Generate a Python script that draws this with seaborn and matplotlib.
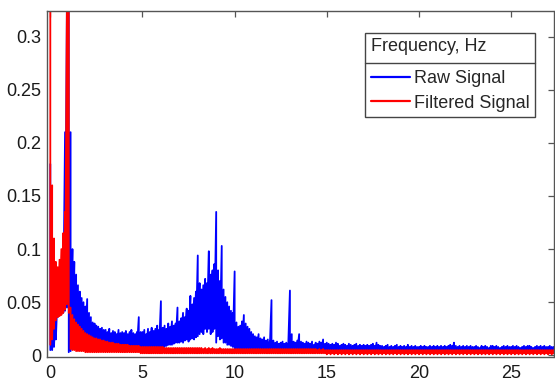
import numpy as np
import pandas as pd
import matplotlib
matplotlib.use("Agg")
import matplotlib.pyplot as plt
from matplotlib.lines import Line2D
from matplotlib.ticker import FuncFormatter
import seaborn as sns

# ---------------- data (0.1 Hz bins) ----------------
freq = np.round(np.arange(0, 27.35, 0.1), 1)   # 0.0 .. 27.3 Hz

# Raw signal: upper and lower envelope of the oscillating spectrum per bin
raw_hi = [
    0.180, 0.052, 0.046, 0.050, 0.060, 0.062, 0.070, 0.082, 0.210, 0.330,
    0.330, 0.210, 0.100, 0.088, 0.076, 0.066, 0.060, 0.054, 0.050, 0.046,
    0.053, 0.040, 0.036, 0.031, 0.030, 0.028, 0.027, 0.025, 0.026, 0.024,
    0.024, 0.022, 0.025, 0.021, 0.023, 0.022, 0.020, 0.024, 0.021, 0.022,
    0.021, 0.023, 0.020, 0.022, 0.024, 0.021, 0.020, 0.022, 0.036, 0.022,
    0.022, 0.024, 0.020, 0.025, 0.022, 0.026, 0.023, 0.025, 0.028, 0.024,
    0.051, 0.026, 0.028, 0.025, 0.030, 0.027, 0.032, 0.028, 0.030, 0.045,
    0.032, 0.035, 0.040, 0.036, 0.044, 0.042, 0.056, 0.048, 0.054, 0.060,
    0.094, 0.068, 0.062, 0.066, 0.072, 0.068, 0.098, 0.076, 0.080, 0.086,
    0.135, 0.080, 0.070, 0.103, 0.062, 0.055, 0.050, 0.046, 0.042, 0.040,
    0.079, 0.031, 0.027, 0.028, 0.032, 0.038, 0.030, 0.027, 0.025, 0.022,
    0.020, 0.018, 0.017, 0.020, 0.016, 0.015, 0.017, 0.014, 0.015, 0.013,
    0.052, 0.014, 0.012, 0.013, 0.011, 0.012, 0.013, 0.011, 0.012, 0.011,
    0.061, 0.020, 0.013, 0.012, 0.014, 0.020, 0.013, 0.012, 0.011, 0.013,
    0.012, 0.011, 0.013, 0.010, 0.012, 0.011, 0.013, 0.012, 0.015, 0.011,
    0.012, 0.011, 0.010, 0.011, 0.010, 0.012, 0.011, 0.009, 0.010, 0.011,
    0.010, 0.009, 0.011, 0.010, 0.009, 0.010, 0.011, 0.009, 0.010, 0.009,
    0.010, 0.009, 0.010, 0.009, 0.010, 0.011, 0.009, 0.012, 0.010, 0.009,
    0.009, 0.008, 0.009, 0.010, 0.008, 0.009, 0.008, 0.009, 0.010, 0.008,
    0.009, 0.008, 0.009, 0.008, 0.010, 0.008, 0.009, 0.008, 0.009, 0.008,
    0.008, 0.009, 0.008, 0.009, 0.008, 0.008, 0.009, 0.008, 0.009, 0.008,
    0.009, 0.008, 0.009, 0.008, 0.009, 0.008, 0.009, 0.010, 0.009, 0.012,
    0.009, 0.008, 0.009, 0.008, 0.009, 0.008, 0.009, 0.008, 0.009, 0.008,
    0.008, 0.009, 0.008, 0.007, 0.009, 0.008, 0.009, 0.008, 0.007, 0.009,
    0.009, 0.008, 0.009, 0.008, 0.007, 0.008, 0.009, 0.008, 0.009, 0.008,
    0.008, 0.009, 0.008, 0.009, 0.008, 0.007, 0.008, 0.009, 0.008, 0.009,
    0.009, 0.008, 0.007, 0.008, 0.009, 0.008, 0.009, 0.008, 0.009, 0.008,
    0.008, 0.009, 0.008, 0.008,
]
raw_lo = [
    0.005, 0.005, 0.008, 0.015, 0.036, 0.038, 0.040, 0.040, 0.042, 0.045,
    0.003, 0.004, 0.006, 0.008, 0.009, 0.008, 0.010, 0.009, 0.008, 0.010,
    0.008, 0.008, 0.007, 0.007, 0.008, 0.007, 0.006, 0.007, 0.006, 0.006,
    0.006, 0.006, 0.007, 0.006, 0.006, 0.007, 0.006, 0.006, 0.007, 0.006,
    0.006, 0.007, 0.006, 0.006, 0.007, 0.006, 0.006, 0.007, 0.006, 0.007,
    0.007, 0.006, 0.007, 0.007, 0.006, 0.007, 0.008, 0.007, 0.008, 0.008,
    0.007, 0.008, 0.008, 0.009, 0.010, 0.010, 0.010, 0.011, 0.012, 0.012,
    0.012, 0.013, 0.012, 0.014, 0.015, 0.013, 0.015, 0.016, 0.015, 0.017,
    0.018, 0.020, 0.022, 0.020, 0.025, 0.022, 0.025, 0.020, 0.022, 0.025,
    0.012, 0.018, 0.015, 0.016, 0.012, 0.012, 0.010, 0.010, 0.009, 0.008,
    0.006, 0.006, 0.006, 0.005, 0.006, 0.006, 0.005, 0.005, 0.005, 0.005,
    0.005, 0.004, 0.005, 0.004, 0.005, 0.004, 0.004, 0.005, 0.004, 0.004,
    0.004, 0.005, 0.004, 0.004, 0.004, 0.005, 0.004, 0.004, 0.004, 0.004,
    0.004, 0.004, 0.005, 0.004, 0.004, 0.004, 0.004, 0.005, 0.004, 0.004,
    0.004, 0.004, 0.004, 0.003, 0.004, 0.004, 0.003, 0.004, 0.004, 0.003,
    0.003, 0.003, 0.004, 0.003, 0.003, 0.003, 0.004, 0.003, 0.003, 0.003,
    0.003, 0.003, 0.003, 0.002, 0.003, 0.003, 0.003, 0.002, 0.003, 0.003,
    0.003, 0.002, 0.003, 0.003, 0.002, 0.003, 0.003, 0.002, 0.003, 0.003,
    0.002, 0.003, 0.003, 0.002, 0.003, 0.002, 0.003, 0.003, 0.002, 0.003,
    0.003, 0.002, 0.003, 0.002, 0.003, 0.003, 0.002, 0.003, 0.002, 0.003,
    0.002, 0.003, 0.002, 0.003, 0.003, 0.002, 0.003, 0.002, 0.003, 0.002,
    0.003, 0.002, 0.003, 0.002, 0.003, 0.002, 0.003, 0.003, 0.002, 0.003,
    0.002, 0.003, 0.002, 0.003, 0.002, 0.003, 0.002, 0.003, 0.002, 0.003,
    0.003, 0.002, 0.003, 0.002, 0.003, 0.002, 0.003, 0.002, 0.003, 0.002,
    0.002, 0.003, 0.002, 0.003, 0.002, 0.003, 0.002, 0.003, 0.002, 0.003,
    0.003, 0.002, 0.003, 0.002, 0.003, 0.002, 0.003, 0.002, 0.003, 0.002,
    0.002, 0.003, 0.002, 0.003, 0.002, 0.003, 0.002, 0.003, 0.002, 0.003,
    0.003, 0.002, 0.003, 0.002,
]

# Filtered signal: upper and lower envelope per bin
filt_hi = [
    0.330, 0.160, 0.110, 0.088, 0.083, 0.090, 0.100, 0.115, 0.135, 0.330,
    0.330, 0.045, 0.038, 0.034, 0.031, 0.029, 0.027, 0.025, 0.023, 0.021,
    0.020, 0.019, 0.018, 0.017, 0.016, 0.016, 0.015, 0.015, 0.014, 0.014,
    0.013, 0.013, 0.012, 0.012, 0.012, 0.011, 0.011, 0.011, 0.010, 0.010,
    0.010, 0.010, 0.010, 0.009, 0.009, 0.009, 0.009, 0.009, 0.009, 0.008,
    0.008, 0.008, 0.008, 0.008, 0.008, 0.008, 0.008, 0.008, 0.008, 0.008,
    0.008, 0.008, 0.007, 0.007, 0.007, 0.007, 0.007, 0.007, 0.007, 0.007,
    0.007, 0.007, 0.007, 0.007, 0.007, 0.007, 0.007, 0.007, 0.007, 0.007,
    0.007, 0.007, 0.007, 0.006, 0.007, 0.006, 0.007, 0.006, 0.007, 0.006,
    0.006, 0.006, 0.007, 0.006, 0.006, 0.006, 0.006, 0.006, 0.006, 0.006,
    0.006, 0.006, 0.006, 0.006, 0.006, 0.006, 0.006, 0.006, 0.006, 0.006,
    0.006, 0.006, 0.006, 0.006, 0.006, 0.006, 0.006, 0.006, 0.006, 0.006,
    0.006, 0.006, 0.006, 0.006, 0.006, 0.006, 0.006, 0.006, 0.006, 0.006,
    0.006, 0.006, 0.006, 0.006, 0.006, 0.006, 0.006, 0.006, 0.006, 0.006,
    0.006, 0.006, 0.006, 0.006, 0.006, 0.005, 0.006, 0.005, 0.006, 0.005,
    0.005, 0.005, 0.005, 0.005, 0.005, 0.005, 0.005, 0.005, 0.005, 0.005,
    0.005, 0.005, 0.005, 0.005, 0.005, 0.005, 0.005, 0.005, 0.005, 0.005,
    0.005, 0.005, 0.005, 0.005, 0.005, 0.005, 0.005, 0.005, 0.005, 0.005,
    0.005, 0.005, 0.005, 0.005, 0.005, 0.005, 0.005, 0.005, 0.005, 0.005,
    0.005, 0.005, 0.005, 0.005, 0.005, 0.005, 0.005, 0.005, 0.005, 0.005,
    0.005, 0.005, 0.005, 0.005, 0.005, 0.005, 0.005, 0.005, 0.005, 0.005,
    0.005, 0.005, 0.005, 0.005, 0.005, 0.005, 0.005, 0.005, 0.005, 0.005,
    0.005, 0.005, 0.005, 0.005, 0.005, 0.005, 0.005, 0.005, 0.005, 0.005,
    0.005, 0.005, 0.005, 0.005, 0.005, 0.005, 0.005, 0.005, 0.005, 0.005,
    0.005, 0.005, 0.005, 0.005, 0.005, 0.005, 0.005, 0.005, 0.005, 0.005,
    0.005, 0.005, 0.005, 0.005, 0.005, 0.005, 0.005, 0.005, 0.005, 0.005,
    0.005, 0.005, 0.005, 0.005, 0.005, 0.005, 0.005, 0.005, 0.005, 0.005,
    0.005, 0.005, 0.005, 0.005,
]
filt_lo = [
    0.010, 0.015, 0.025, 0.033, 0.036, 0.037, 0.038, 0.040, 0.043, 0.048,
    0.040, 0.006, 0.005, 0.005, 0.004, 0.004, 0.004, 0.004, 0.004, 0.003,
    0.003, 0.003, 0.003, 0.003, 0.003, 0.003, 0.003, 0.003, 0.003, 0.003,
    0.003, 0.003, 0.003, 0.003, 0.003, 0.003, 0.003, 0.003, 0.003, 0.003,
    0.003, 0.003, 0.003, 0.003, 0.003, 0.003, 0.003, 0.003, 0.003, 0.002,
    0.002, 0.002, 0.002, 0.002, 0.002, 0.002, 0.002, 0.002, 0.002, 0.002,
    0.002, 0.002, 0.002, 0.002, 0.002, 0.002, 0.002, 0.002, 0.002, 0.002,
    0.002, 0.002, 0.002, 0.002, 0.002, 0.002, 0.002, 0.002, 0.002, 0.002,
    0.002, 0.002, 0.002, 0.002, 0.002, 0.002, 0.002, 0.002, 0.002, 0.002,
    0.002, 0.002, 0.002, 0.002, 0.002, 0.002, 0.002, 0.002, 0.002, 0.002,
    0.002, 0.002, 0.002, 0.002, 0.002, 0.002, 0.002, 0.002, 0.002, 0.002,
    0.002, 0.002, 0.002, 0.002, 0.002, 0.002, 0.002, 0.002, 0.002, 0.002,
    0.002, 0.002, 0.002, 0.002, 0.002, 0.002, 0.002, 0.002, 0.002, 0.002,
    0.002, 0.002, 0.002, 0.002, 0.002, 0.002, 0.002, 0.002, 0.002, 0.002,
    0.002, 0.002, 0.002, 0.002, 0.002, 0.002, 0.002, 0.002, 0.002, 0.002,
    0.001, 0.002, 0.001, 0.002, 0.001, 0.002, 0.001, 0.002, 0.001, 0.002,
    0.001, 0.002, 0.001, 0.002, 0.001, 0.002, 0.001, 0.002, 0.001, 0.002,
    0.001, 0.002, 0.001, 0.002, 0.001, 0.002, 0.001, 0.002, 0.001, 0.002,
    0.001, 0.002, 0.001, 0.002, 0.001, 0.002, 0.001, 0.002, 0.001, 0.002,
    0.001, 0.002, 0.001, 0.002, 0.001, 0.002, 0.001, 0.002, 0.001, 0.002,
    0.001, 0.002, 0.001, 0.002, 0.001, 0.002, 0.001, 0.002, 0.001, 0.002,
    0.001, 0.002, 0.001, 0.002, 0.001, 0.002, 0.001, 0.002, 0.001, 0.002,
    0.001, 0.002, 0.001, 0.002, 0.001, 0.002, 0.001, 0.002, 0.001, 0.002,
    0.001, 0.002, 0.001, 0.002, 0.001, 0.002, 0.001, 0.002, 0.001, 0.002,
    0.001, 0.002, 0.001, 0.002, 0.001, 0.002, 0.001, 0.002, 0.001, 0.002,
    0.001, 0.002, 0.001, 0.002, 0.001, 0.002, 0.001, 0.002, 0.001, 0.002,
    0.001, 0.002, 0.001, 0.002, 0.001, 0.002, 0.001, 0.002, 0.001, 0.002,
    0.001, 0.002, 0.001, 0.002,
]

series_names = ["Raw Signal", "Filtered Signal"]
series_colors = ["#0000ff", "#ff0000"]
legend_title = "Frequency, Hz"
x_ticks = [0, 5, 10, 15, 20, 25]
y_ticks = [0, 0.05, 0.1, 0.15, 0.2, 0.25, 0.3]


def trace(name, hi, lo):
    # the spectrum oscillates between the upper and lower value in each bin
    rows = []
    for f, h, l in zip(freq, hi, lo):
        rows.append((f, h, name))
        rows.append((f, l, name))
    return rows


df = pd.DataFrame(trace(series_names[0], raw_hi, raw_lo)
                  + trace(series_names[1], filt_hi, filt_lo),
                  columns=["freq", "amp", "signal"])

# ---------------- style ----------------
sns.set_theme(style="white")
plt.rcParams["font.family"] = ["Liberation Sans", "DejaVu Sans"]
axis_grey = "#555555"
FS = 13

fig = plt.figure(figsize=(5.55, 3.81), dpi=100)
ax = fig.add_axes([47 / 555, 1 - 357 / 381, 506.5 / 555, 346 / 381])

sns.lineplot(data=df, x="freq", y="amp", hue="signal",
             hue_order=series_names,
             palette=dict(zip(series_names, series_colors)),
             sort=False, estimator=None, lw=1.3, ax=ax, legend=False)

ax.set_xlim(-0.18, 27.3)
ax.set_ylim(-0.0015, 0.324)
ax.set_xticks(x_ticks)
ax.set_yticks(y_ticks)
ax.yaxis.set_major_formatter(FuncFormatter(lambda v, p: f"{v:g}"))
ax.set_xlabel("")
ax.set_ylabel("")
for s in ax.spines.values():
    s.set_visible(True)
    s.set_color(axis_grey)
    s.set_linewidth(1.0)
ax.tick_params(direction="in", top=True, right=True, length=4, width=0.9,
               color=axis_grey, labelsize=FS, labelcolor="#1a1a1a")
ax.tick_params(axis="x", pad=6)
ax.tick_params(axis="y", pad=4)

handles = [Line2D([], [], color=c, lw=1.6) for c in series_colors]
leg = ax.legend(handles, series_names, title=legend_title,
                loc="upper right", bbox_to_anchor=(0.9635, 0.937),
                fontsize=FS, title_fontsize=FS, alignment="left",
                frameon=True, fancybox=False, framealpha=1,
                edgecolor="#444444", handlelength=2.2, handletextpad=0.2,
                borderpad=0.3, labelspacing=0.43, borderaxespad=0)
leg.get_frame().set_linewidth(1.0)
leg._legend_box.sep = 10.6   # gap between title and entries (points)

# separator line under the legend title
fig.canvas.draw()
fb = leg.get_frame().get_window_extent()
tb = leg.get_title().get_window_extent()
t0 = leg.get_texts()[0].get_window_extent()
ysep = (tb.y0 + t0.y1) / 2
W, H = fig.bbox.width, fig.bbox.height
fig.add_artist(Line2D([fb.x0 / W, fb.x1 / W], [ysep / H, ysep / H],
                      color="#444444", lw=1.0, transform=fig.transFigure))

fig.savefig("out.png", dpi=100)
